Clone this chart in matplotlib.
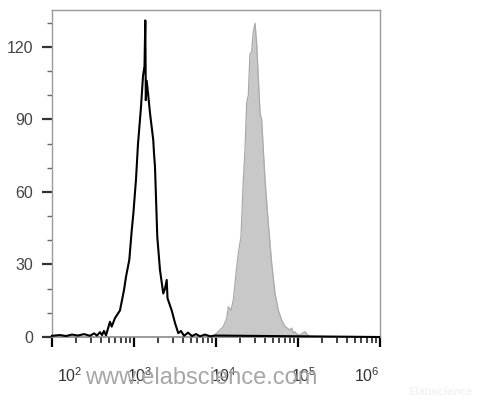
import numpy as np
import matplotlib
matplotlib.use("Agg")
import matplotlib.pyplot as plt
from matplotlib.transforms import ScaledTranslation
from matplotlib.ticker import LogLocator, FixedLocator

plt.rcParams["font.family"] = ["Liberation Sans", "DejaVu Sans"]
plt.rcParams["mathtext.fontset"] = "custom"
plt.rcParams["mathtext.rm"] = "Liberation Sans"
plt.rcParams["mathtext.it"] = "Liberation Sans:italic"
plt.rcParams["mathtext.bf"] = "Liberation Sans:bold"

# isotype control (black line), x in log10 units
ctrl_log = [2.006, 2.104, 2.177, 2.250, 2.323, 2.396, 2.470, 2.518, 2.555, 2.591,
            2.616, 2.640, 2.665, 2.689, 2.713, 2.734, 2.774, 2.835, 2.884, 2.909,
            2.949, 2.978, 2.998, 3.030, 3.055, 3.079, 3.091, 3.116, 3.134, 3.144,
            3.150, 3.161, 3.180, 3.201, 3.241, 3.250, 3.262, 3.290, 3.323, 3.363,
            3.384, 3.405, 3.415, 3.466, 3.506, 3.546, 3.579, 3.616, 3.665, 3.713,
            3.762, 3.811, 3.872, 3.933, 3.994, 5.994]
ctrl_cnt = [0.5, 0.8, 0.4, 1.0, 0.6, 1.2, 0.5, 1.5, 0.6, 2.0,
            0.8, 2.5, 0.7, 3.5, 6.3, 4.3, 7.8, 11, 19.4, 25,
            32, 44, 51, 65, 80, 90, 95, 108, 112, 131,
            98, 106, 100, 92.7, 81.5, 76, 70.5, 41.5, 27.7, 18,
            20, 23.6, 16, 11, 5.8, 1.6, 2.5, 0.5, 1.8, 0.4,
            1.2, 0.3, 1.0, 0.3, 0.6, 0.0]

# stained sample (gray filled)
stain_log = [3.950, 4.015, 4.055, 4.095, 4.137, 4.156, 4.189, 4.217, 4.246, 4.278,
             4.311, 4.339, 4.360, 4.380, 4.400, 4.420, 4.441, 4.460, 4.482, 4.502,
             4.543, 4.563, 4.604, 4.644, 4.685, 4.726, 4.766, 4.807, 4.848, 4.909,
             4.930, 4.949, 4.970, 4.990, 5.030, 5.091, 5.132, 5.177]
stain_cnt = [0.0, 1.6, 2.9, 4.3, 7.8, 12.5, 11, 15.3, 25, 34.6,
             41.5, 65, 77.4, 97, 100, 117, 118, 126, 129.8, 121.5,
             92.7, 89.8, 65, 47, 30.6, 18, 11, 7, 4.3, 2.9,
             3.7, 1.6, 2.2, 1.2, 0.8, 2.2, 0.5, 0.0]

yticks = [0, 30, 60, 90, 120]
xticks = [1e2, 1e3, 1e4, 1e5, 1e6]
xlabels = [r"$10^{2}$", r"$10^{3}$", r"$10^{4}$", r"$10^{5}$", r"$10^{6}$"]
label_shift = [18, 6, 8, 6, -13]  # px, labels sit a bit off their ticks

fig = plt.figure(figsize=(4.78, 4.0), dpi=100)
ax = fig.add_axes([51.5 / 478, 63 / 400, 328 / 478, 327 / 400])

sx = 10 ** np.array(stain_log)
ax.fill_between(sx, stain_cnt, 0, color="#c8c8c8", linewidth=0, zorder=2)
ax.plot(sx, stain_cnt, color="#a9a9a9", lw=0.9, zorder=3)
ax.plot(10 ** np.array(ctrl_log), ctrl_cnt, color="black", lw=1.5, zorder=4, clip_on=False)

ax.set_xscale("log")
ax.set_xlim(1e2, 1e6)
ax.set_ylim(0, 135.3)

ax.xaxis.set_major_locator(FixedLocator(xticks))
ax.xaxis.set_minor_locator(LogLocator(base=10, subs=np.arange(2, 10)))
ax.set_xticklabels(xlabels)
ax.xaxis.set_minor_formatter(plt.NullFormatter())
ax.set_yticks(yticks)
ax.yaxis.set_minor_locator(FixedLocator([10, 20, 40, 50, 70, 80, 100, 110, 130]))

ax.tick_params(axis="x", which="major", direction="out", length=7, width=1.6,
               color="black", pad=14, labelsize=11.5, labelcolor="#333333")
ax.tick_params(axis="x", which="minor", direction="out", length=4, width=1.2, color="#222222")
ax.tick_params(axis="y", which="major", direction="out", length=7, width=1.6,
               color="#333333", pad=6, labelsize=11.5, labelcolor="#444444")
ax.tick_params(axis="y", which="minor", direction="out", length=3.5, width=1.0, color="#666666")

for lbl, dx in zip(ax.get_xticklabels(), label_shift):
    lbl.set_transform(lbl.get_transform() + ScaledTranslation(dx / 100, 0, fig.dpi_scale_trans))

for side in ["top", "right", "left"]:
    ax.spines[side].set_color("#9a9a9a")
    ax.spines[side].set_linewidth(1.0)
ax.spines["bottom"].set_color("#8a8a8a")
ax.spines["bottom"].set_linewidth(1.2)

fig.text(85 / 478, 16 / 400, "www.elabscience.com", color="#a6a6a6",
         fontsize=17, ha="left", va="baseline", zorder=10)
fig.text(408 / 478, 5 / 400, "Elabscience", color="#f2f2f2",
         fontsize=8, fontweight="bold", ha="left", va="baseline")

fig.savefig("out.png", dpi=100)
